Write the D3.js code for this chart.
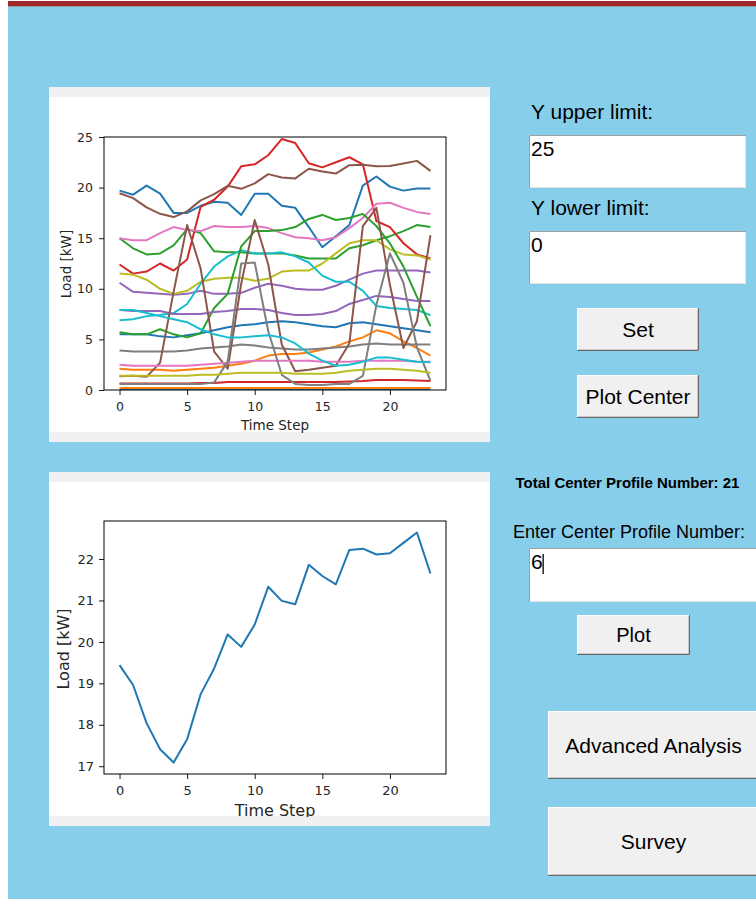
<!DOCTYPE html>
<html>
<head>
<meta charset="utf-8">
<script src="https://cdn.jsdelivr.net/npm/d3@7"></script>
<style>
  body { margin: 0; background: #fff; }
  svg { display: block; }
  .mpl text { font-family: "DejaVu Sans", sans-serif; fill: #262626; }
  .gui text { font-family: "Liberation Sans", Arial, sans-serif; fill: #000; }
</style>
</head>
<body>
<script>
// time steps on the x axis
const timeSteps = [0,1,2,3,4,5,6,7,8,9,10,11,12,13,14,15,16,17,18,19,20,21,22,23];

// 21 center profiles, plotted in this order (matplotlib tab10 cycle)
const profile01 = [19.7,19.3,20.2,19.4,17.5,17.5,18.2,18.6,18.5,17.3,19.4,19.4,18.2,18.0,16.1,14.1,15.2,16.3,20.2,21.1,20.1,19.7,19.9,19.9];
const profile02 = [2.1,2.0,2.0,2.0,1.9,2.0,2.1,2.2,2.4,2.6,2.9,3.4,3.55,3.55,3.7,4.0,4.3,4.8,5.2,5.9,5.6,4.8,4.15,3.4];
const profile03 = [15.0,14.0,13.4,13.5,14.3,15.9,15.5,13.7,13.6,13.6,13.5,13.5,13.5,13.3,13.0,13.0,13.0,14.0,14.3,14.8,15.2,15.7,16.3,16.1];
const profile04 = [12.4,11.5,11.7,12.5,11.8,12.9,18.1,18.8,20.1,22.1,22.3,23.2,24.8,24.4,22.4,22.0,22.5,23.0,22.3,16.7,16.1,14.5,13.4,13.0];
const profile05 = [10.6,9.7,9.6,9.5,9.4,9.5,9.8,9.5,9.5,9.6,10.1,10.5,10.3,10.0,9.9,9.9,10.3,10.9,11.5,11.8,11.8,11.8,11.8,11.6];
const profile06 = [19.44,18.96,18.04,17.41,17.09,17.65,18.74,19.36,20.18,19.88,20.42,21.33,20.99,20.91,21.86,21.59,21.39,22.22,22.25,22.11,22.14,22.39,22.64,21.65];
const profile07 = [15.0,14.8,14.8,15.5,16.1,15.8,15.7,16.2,16.1,16.1,16.2,16.0,15.5,15.1,15.0,14.8,15.1,16.0,17.0,18.4,18.5,18.0,17.6,17.4];
const profile08 = [3.9,3.8,3.8,3.8,3.8,3.9,4.1,4.2,4.3,4.5,4.4,4.2,4.1,4.0,4.0,4.1,4.2,4.3,4.5,4.6,4.5,4.5,4.5,4.5];
const profile09 = [11.5,11.4,10.9,10.0,9.5,9.8,10.7,11.0,11.1,11.1,10.8,11.0,11.7,11.8,11.8,12.5,13.5,14.5,14.8,14.8,13.9,13.4,13.3,12.9];
const profile10 = [6.9,7.0,7.3,7.4,7.6,8.5,10.5,12.2,13.2,13.8,13.5,13.5,13.6,13.2,12.6,11.3,10.7,10.7,9.8,8.3,8.1,8.0,7.9,7.4];
const profile11 = [5.5,5.5,5.5,5.3,5.2,5.4,5.6,5.9,6.2,6.4,6.5,6.7,6.8,6.7,6.5,6.3,6.2,6.6,6.7,6.5,6.3,6.1,5.9,5.7];
const profile12 = [0.2,0.2,0.2,0.2,0.2,0.2,0.2,0.2,0.2,0.2,0.2,0.2,0.2,0.2,0.2,0.2,0.2,0.2,0.2,0.2,0.2,0.2,0.2,0.2];
const profile13 = [5.7,5.5,5.5,6.0,5.5,5.2,5.6,8.1,9.5,14.2,15.7,15.7,15.8,16.1,16.9,17.3,16.8,17.0,17.4,16.2,14.5,12.2,9.2,6.3];
const profile14 = [0.65,0.65,0.65,0.65,0.65,0.65,0.7,0.7,0.8,0.8,0.8,0.8,0.8,0.8,0.8,0.8,0.8,0.85,0.9,1.0,1.0,1.0,0.95,0.9];
const profile15 = [7.9,7.8,7.8,7.8,7.5,7.5,7.5,7.7,7.8,8.0,8.0,7.9,7.6,7.4,7.4,7.5,7.8,8.5,8.9,9.3,9.2,9.0,8.8,8.8];
const profile16 = [1.35,1.4,1.3,2.7,9.7,16.3,12.0,3.8,2.1,10.5,16.8,12.4,4.5,1.85,2.0,2.2,2.4,4.6,16.2,18.0,10.4,4.15,6.8,15.3];
const profile17 = [2.5,2.4,2.4,2.4,2.4,2.4,2.5,2.6,2.7,2.8,2.9,2.9,2.9,2.9,2.9,2.8,2.8,2.8,2.9,2.9,2.9,2.9,2.8,2.8];
const profile18 = [0.6,0.6,0.6,0.6,0.6,0.6,0.6,0.75,2.8,12.5,12.6,5.8,1.5,0.6,0.5,0.5,0.6,0.6,1.4,8.4,13.5,10.6,4.2,0.9];
const profile19 = [1.4,1.4,1.4,1.4,1.4,1.4,1.5,1.5,1.6,1.7,1.7,1.7,1.7,1.6,1.6,1.6,1.7,1.9,2.0,2.1,2.1,2.0,1.9,1.7];
const profile20 = [7.9,7.9,7.6,7.3,7.0,6.7,6.0,5.5,5.2,5.2,5.3,5.4,5.2,4.6,3.6,2.9,2.4,2.5,2.8,3.2,3.2,3.0,2.8,2.75];
const profile21 = [0,0,0,0,0,0,0,0,0,0,0,0,0,0,0,0,0,0,0,0,0,0,0,0];

const profiles = [profile01,profile02,profile03,profile04,profile05,profile06,profile07,
  profile08,profile09,profile10,profile11,profile12,profile13,profile14,profile15,
  profile16,profile17,profile18,profile19,profile20,profile21];

const selectedProfile = 6;
const yUpper = 25;
const yLower = 0;
const xTicks = [0,5,10,15,20];
const yTicksTop = [0,5,10,15,20,25];
const yTicksBottom = [17,18,19,20,21,22];

const width = 756;
const height = 899;

let svg = d3.select('body')
            .append('svg')
            .attr('width', width)
            .attr('height', height);

// window background
svg.append('rect').attr('x', 8).attr('y', 0).attr('width', width - 8).attr('height', height).attr('fill', '#87ceeb');
svg.append('rect').attr('x', 8).attr('y', 0).attr('width', width - 8).attr('height', 1).attr('fill', '#fff');
svg.append('rect').attr('x', 8).attr('y', 1).attr('width', width - 8).attr('height', 5).attr('fill', '#a0292b');
svg.append('rect').attr('x', 8).attr('y', 6).attr('width', width - 8).attr('height', 1).attr('fill', '#9a9a9a');

function panel(y0, h) {
    let g = svg.append('g');
    g.append('rect').attr('x', 49).attr('y', y0).attr('width', 441).attr('height', h).attr('fill', '#f0f0f0');
    g.append('rect').attr('x', 49).attr('y', y0 + 10).attr('width', 441).attr('height', h - 20).attr('fill', '#fff');
    return g;
}

function xScale() {
    return d3.scaleLinear().domain([-1.15, 24.15]).range([104, 446]);
}

function drawAxes(g, x, y, yTicks, top, bottom, tickFont, tickPadY) {
    let ax = g.append('g').attr('class', 'mpl');
    ax.append('g')
      .attr('transform', `translate(0,${bottom})`)
      .call(d3.axisBottom(x).tickValues(xTicks).tickFormat(d3.format('d'))
              .tickSize(5).tickPadding(7).tickSizeOuter(0))
      .call(s => s.select('.domain').remove());
    ax.append('g')
      .attr('transform', 'translate(104,0)')
      .call(d3.axisLeft(y).tickValues(yTicks).tickFormat(d3.format('d'))
              .tickSize(5).tickPadding(tickPadY).tickSizeOuter(0))
      .call(s => s.select('.domain').remove());
    ax.selectAll('.tick line').attr('stroke', '#000').attr('stroke-width', 0.9);
    ax.selectAll('.tick text').attr('font-size', tickFont).attr('fill', '#262626')
      .attr('font-family', '"DejaVu Sans", sans-serif');
    ax.append('rect').attr('x', 104).attr('y', top).attr('width', 342).attr('height', bottom - top)
      .attr('fill', 'none').attr('stroke', '#000').attr('stroke-width', 1);
    return ax;
}

// ---------- top chart: all center profiles ----------
let topPanel = panel(87, 355);
let xTop = xScale();
let yTop = d3.scaleLinear().domain([yLower, yUpper]).range([390, 137]);

svg.append('clipPath').attr('id', 'clipTop')
   .append('rect').attr('x', 104).attr('y', 137).attr('width', 342).attr('height', 253);

let lineTop = d3.line().x((d, i) => xTop(timeSteps[i])).y(d => yTop(d));

topPanel.append('g').attr('clip-path', 'url(#clipTop)')
  .selectAll('path')
  .data(profiles)
  .enter()
  .append('path')
  .attr('d', lineTop)
  .attr('fill', 'none')
  .attr('stroke', (d, i) => d3.schemeCategory10[i % 10])
  .attr('stroke-width', 2)
  .attr('stroke-linejoin', 'round');

let axTop = drawAxes(topPanel, xTop, yTop, yTicksTop, 137, 390, '12.5px', 6);
axTop.append('text').attr('x', 275).attr('y', 430).attr('text-anchor', 'middle')
     .attr('font-size', '13.5px').text('Time Step');
axTop.append('text').attr('transform', 'translate(71,264) rotate(-90)').attr('text-anchor', 'middle')
     .attr('font-size', '13.5px').text('Load [kW]');

// ---------- bottom chart: selected center profile ----------
let bottomPanel = panel(472, 354);
let xBot = xScale();
let ext = d3.extent(profile06);
let pad = (ext[1] - ext[0]) * 0.05;
let yBot = d3.scaleLinear().domain([ext[0] - pad, ext[1] + pad]).range([774, 521]);

let lineBot = d3.line().x((d, i) => xBot(timeSteps[i])).y(d => yBot(d));

bottomPanel.append('path')
  .datum(profile06)
  .attr('d', lineBot)
  .attr('fill', 'none')
  .attr('stroke', d3.schemeCategory10[0])
  .attr('stroke-width', 2)
  .attr('stroke-linejoin', 'round');

let axBot = drawAxes(bottomPanel, xBot, yBot, yTicksBottom, 521, 774, '13px', 5);
axBot.append('text').attr('x', 275).attr('y', 816).attr('text-anchor', 'middle')
     .attr('font-size', '16px').text('Time Step');
axBot.append('text').attr('transform', 'translate(69,649) rotate(-90)').attr('text-anchor', 'middle')
     .attr('font-size', '16px').text('Load [kW]');
// bottom gray strip drawn over the clipped axis title
bottomPanel.append('rect').attr('x', 49).attr('y', 817).attr('width', 441).attr('height', 9).attr('fill', '#f0f0f0');

// ---------- right side controls ----------
let gui = svg.append('g').attr('class', 'gui');

function label(x, y, txt, size, anchor, bold) {
    gui.append('text').attr('x', x).attr('y', y).attr('font-size', size)
       .attr('text-anchor', anchor || 'start')
       .attr('font-weight', bold ? 'bold' : 'normal').text(txt);
}

function entry(x, y, w, h, txt) {
    gui.append('rect').attr('x', x).attr('y', y).attr('width', w).attr('height', h).attr('fill', '#fff');
    gui.append('path').attr('d', `M${x + 0.5},${y + h}V${y + 0.5}H${x + w}`)
       .attr('fill', 'none').attr('stroke', '#a0a0a0');
    gui.append('path').attr('d', `M${x + 1},${y + h - 0.5}H${x + w - 0.5}V${y + 1}`)
       .attr('fill', 'none').attr('stroke', '#e3e3e3');
    gui.append('text').attr('x', x + 2).attr('y', y + 21).attr('font-size', '21px').text(txt);
}

function button(x, y, w, h, txt, size, by) {
    gui.append('rect').attr('x', x).attr('y', y).attr('width', w).attr('height', h).attr('fill', '#f0f0f0');
    gui.append('path').attr('d', `M${x + 0.5},${y + h}V${y + 0.5}H${x + w}`)
       .attr('fill', 'none').attr('stroke', '#fdfdfd');
    gui.append('path').attr('d', `M${x + 1},${y + h - 1}H${x + w - 1}V${y + 1}`)
       .attr('fill', 'none').attr('stroke', '#a0a0a0');
    gui.append('path').attr('d', `M${x},${y + h - 0.5}H${x + w - 0.5}V${y}`)
       .attr('fill', 'none').attr('stroke', '#696969');
    gui.append('text').attr('x', x + w / 2).attr('y', by).attr('font-size', size)
       .attr('text-anchor', 'middle').text(txt);
}

label(531, 119, 'Y upper limit:', '21px');
entry(529, 135, 217, 53, String(yUpper));
label(531, 215, 'Y lower limit:', '21px');
entry(529, 231, 217, 53, String(yLower));
button(577, 308, 122, 43, 'Set', '21px', 337);
button(577, 375, 122, 43, 'Plot Center', '21px', 404);

label(627.5, 488, 'Total Center Profile Number: ' + profiles.length, '15px', 'middle', true);
label(513, 538, 'Enter Center Profile Number:', '18px');
entry(529, 548, 230, 54, String(selectedProfile));
gui.append('rect').attr('x', 542.5).attr('y', 554).attr('width', 1.3).attr('height', 20).attr('fill', '#000');
button(577, 615, 113, 40, 'Plot', '20px', 642);
button(548, 711, 211, 68, 'Advanced Analysis', '21px', 753);
button(548, 807, 211, 69, 'Survey', '21px', 849);
</script>
</body>
</html>
